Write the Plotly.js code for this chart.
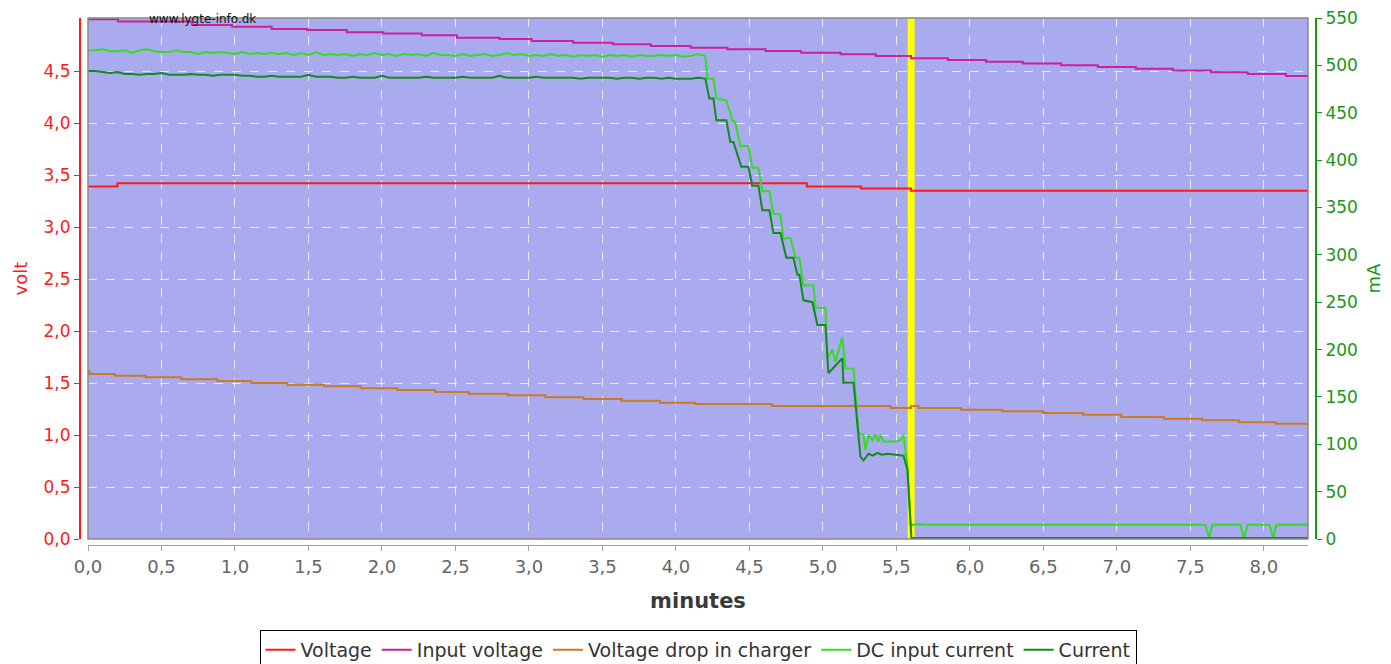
<!DOCTYPE html>
<html>
<head>
<meta charset="utf-8">
<script src="https://cdn.plot.ly/plotly-3.0.1.min.js"></script>
<style>html,body{margin:0;padding:0;background:#fff;}#chart{width:1391px;height:664px;}</style>
</head>
<body>
<div id="chart"></div>
<script>
// ---- Data (minutes / volt / mA) ----
const voltageT = [0, 0.20, 4.89, 5.26, 5.60, 8.30];
const voltageV = [3.39, 3.42, 3.39, 3.37, 3.35, 3.35];

const inputT = [0, 0.204, 0.708, 0.98, 1.25, 1.49, 1.76, 2.01, 2.27, 2.51, 2.80, 3.02, 3.30, 3.57, 3.83, 4.10, 4.35, 4.61, 4.85, 5.12, 5.36, 5.60, 5.85, 6.11, 6.36, 6.62, 6.87, 7.13, 7.38, 7.64, 7.89, 8.15, 8.30];
const inputV = [4.997, 4.976, 4.942, 4.926, 4.904, 4.894, 4.872, 4.862, 4.843, 4.820, 4.808, 4.788, 4.772, 4.757, 4.740, 4.724, 4.709, 4.692, 4.676, 4.661, 4.644, 4.622, 4.606, 4.589, 4.572, 4.555, 4.538, 4.521, 4.505, 4.488, 4.471, 4.452, 4.452];

const dropT = [0, 0.011, 0.182, 0.392, 0.636, 0.880, 1.111, 1.355, 1.605, 1.855, 2.105, 2.361, 2.590, 2.855, 3.111, 3.371, 3.630, 3.892, 4.130, 4.652, 5.46, 5.60, 5.65, 5.94, 6.22, 6.50, 6.77, 7.03, 7.32, 7.58, 7.83, 8.08, 8.30];
const dropV = [1.615, 1.587, 1.571, 1.555, 1.535, 1.519, 1.500, 1.484, 1.468, 1.449, 1.433, 1.413, 1.397, 1.382, 1.363, 1.346, 1.330, 1.311, 1.298, 1.279, 1.260, 1.279, 1.260, 1.243, 1.228, 1.212, 1.195, 1.173, 1.157, 1.141, 1.122, 1.109, 1.109];

const dcInT = [0, 0.05, 0.10, 0.15, 0.20, 0.25, 0.30, 0.35, 0.40, 0.45, 0.50, 0.55, 0.60, 0.65, 0.70, 0.75, 0.80, 0.85, 0.90, 0.95,
  1.00, 1.05, 1.10, 1.15, 1.20, 1.25, 1.30, 1.35, 1.40, 1.45, 1.50, 1.55, 1.60, 1.65, 1.70, 1.75, 1.80, 1.85, 1.90, 1.95,
  2.00, 2.05, 2.10, 2.15, 2.20, 2.25, 2.30, 2.35, 2.40, 2.45, 2.50, 2.55, 2.60, 2.65, 2.70, 2.75, 2.80, 2.85, 2.90, 2.95,
  3.00, 3.05, 3.10, 3.15, 3.20, 3.25, 3.30, 3.35, 3.40, 3.45, 3.50, 3.55, 3.60, 3.65, 3.70, 3.75, 3.80, 3.85, 3.90, 3.95,
  4.00, 4.05, 4.10, 4.15, 4.18, 4.200, 4.214, 4.255, 4.275, 4.343, 4.384, 4.404, 4.438, 4.493, 4.520, 4.561, 4.588, 4.636,
  4.663, 4.711, 4.731, 4.779, 4.813, 4.840, 4.867, 4.935, 4.949, 5.017, 5.031, 5.064, 5.085, 5.132, 5.153, 5.208, 5.242,
  5.276, 5.289, 5.310, 5.337, 5.357, 5.378, 5.391, 5.412, 5.494, 5.527, 5.548, 5.575, 5.596, 5.63, 5.65, 5.66, 5.67, 5.68,
  7.600, 7.627, 7.650, 7.840, 7.865, 7.890, 8.040, 8.062, 8.085, 8.30];
const dcInA = [516, 516, 517, 515, 515, 516, 513, 516, 517, 515, 514, 514, 516, 514, 514, 512, 514, 513, 514, 513,
  512, 514, 512, 513, 512, 513, 512, 513, 511, 513, 511, 514, 511, 512, 511, 512, 510, 512, 511, 513,
  511, 512, 510, 512, 511, 512, 510, 513, 511, 511, 510, 512, 510, 511, 512, 510, 511, 513, 511, 512,
  510, 511, 510, 512, 510, 511, 509, 511, 510, 511, 509, 511, 510, 511, 509, 511, 510, 510, 511, 510,
  511, 509, 510, 512, 511, 510, 486, 486, 465, 463, 442, 440, 415, 415, 392, 392, 367, 367,
  343, 343, 317, 318, 297, 297, 268, 268, 244, 244, 191, 200, 187, 213, 180, 180, 112,
  110, 94, 110, 104, 110, 103, 110, 103, 103, 104, 110, 76, 15, 15, 16, 15, 16, 15,
  15, 2, 15, 15, 1, 15, 15, 1, 15, 15];

const curT = [0, 0.05, 0.10, 0.15, 0.20, 0.25, 0.30, 0.35, 0.40, 0.45, 0.50, 0.55, 0.60, 0.65, 0.70, 0.75, 0.80, 0.85, 0.90, 0.95,
  1.00, 1.05, 1.10, 1.15, 1.20, 1.25, 1.30, 1.35, 1.40, 1.45, 1.50, 1.55, 1.60, 1.65, 1.70, 1.75, 1.80, 1.85, 1.90, 1.95,
  2.00, 2.05, 2.10, 2.15, 2.20, 2.25, 2.30, 2.35, 2.40, 2.45, 2.50, 2.55, 2.60, 2.65, 2.70, 2.75, 2.80, 2.85, 2.90, 2.95,
  3.00, 3.05, 3.10, 3.15, 3.20, 3.25, 3.30, 3.35, 3.40, 3.45, 3.50, 3.55, 3.60, 3.65, 3.70, 3.75, 3.80, 3.85, 3.90, 3.95,
  4.00, 4.05, 4.10, 4.15, 4.200, 4.227, 4.255, 4.275, 4.343, 4.370, 4.391, 4.445, 4.493, 4.520, 4.561, 4.588, 4.636,
  4.663, 4.711, 4.751, 4.799, 4.826, 4.840, 4.867, 4.929, 4.962, 5.017, 5.037, 5.132, 5.139, 5.208, 5.255, 5.276,
  5.310, 5.340, 5.370, 5.400, 5.440, 5.480, 5.548, 5.575, 5.582, 5.602, 8.30];
const curA = [494, 494, 493, 492, 493, 491, 491, 490, 491, 491, 492, 490, 490, 490, 491, 490, 490, 489, 490, 490,
  490, 489, 489, 488, 488, 489, 488, 488, 488, 488, 490, 488, 488, 488, 487, 487, 488, 487, 487, 487,
  489, 487, 487, 487, 487, 487, 488, 487, 487, 487, 487, 488, 487, 487, 487, 487, 489, 487, 487, 487,
  487, 488, 487, 487, 487, 487, 487, 486, 487, 487, 487, 487, 486, 487, 487, 486, 487, 487, 486, 487,
  486, 486, 486, 487, 486, 465, 465, 442, 442, 419, 419, 393, 393, 373, 373, 347, 347,
  323, 323, 297, 297, 279, 279, 252, 250, 226, 226, 175, 191, 165, 165, 87, 83,
  90, 88, 91, 89, 90, 89, 88, 73, 55, 1, 1];

const yellowMarkerT = 5.60;

const red = '#ff1a1a', magenta = '#cc2299', orange = '#cc7a22', lightGreen = '#33dd22', darkGreen = '#138a1e';
const axisGreen = '#1a961a';

const traces = [
  {name: 'Voltage', x: voltageT, y: voltageV, yaxis: 'y', line: {color: red, width: 2, shape: 'hv'}},
  {name: 'Input voltage', x: inputT, y: inputV, yaxis: 'y', line: {color: magenta, width: 2, shape: 'hv'}},
  {name: 'Voltage drop in charger', x: dropT, y: dropV, yaxis: 'y', line: {color: orange, width: 2, shape: 'hv'}},
  {name: 'DC input current', x: dcInT, y: dcInA, yaxis: 'y2', line: {color: lightGreen, width: 2}},
  {name: 'Current', x: curT, y: curA, yaxis: 'y2', line: {color: darkGreen, width: 2}}
].map(t => Object.assign({type: 'scatter', mode: 'lines', hoverinfo: 'skip'}, t));

const W = 1391, H = 664, ml = 80, mr = 75, mt = 18, mb = 119;
const pw = W - ml - mr, ph = H - mt - mb;

const layout = {
  width: W, height: H,
  margin: {l: ml, r: mr, t: mt, b: mb, pad: 0, autoexpand: false},
  paper_bgcolor: '#ffffff',
  plot_bgcolor: '#aaaaee',
  separators: ',.',
  font: {family: 'DejaVu Sans, sans-serif', size: 14, color: '#555'},
  showlegend: true,
  legend: {
    orientation: 'h', x: 0.5, xanchor: 'center', y: -(630 - 545) / ph, yanchor: 'top',
    bordercolor: '#000', borderwidth: 1, bgcolor: '#fff',
    font: {family: 'DejaVu Sans, sans-serif', size: 19, color: '#333'},
    itemwidth: 30, tracegroupgap: 0
  },
  xaxis: {
    domain: [8 / pw, (pw - 8) / pw],
    range: [0, 8.3], dtick: 0.5, tick0: 0, tickformat: '.1f',
    anchor: 'free', position: 0,
    showline: true, linecolor: '#a0a0a0', linewidth: 1,
    ticks: 'outside', ticklen: 5, tickcolor: '#a0a0a0',
    tickfont: {size: 18, color: '#666'},
    showgrid: true, gridcolor: 'rgba(255,255,255,0.75)', griddash: 'dash', gridwidth: 1,
    zeroline: false,
    title: {text: '<b>minutes</b>', font: {size: 21, color: '#3a3a3a'}, standoff: 17}
  },
  yaxis: {
    domain: [6 / ph, 1],
    range: [0, 5.01], dtick: 0.5, tick0: 0, tickformat: '.1f',
    tickvals: [0, 0.5, 1, 1.5, 2, 2.5, 3, 3.5, 4, 4.5],
    anchor: 'free', position: 0,
    showline: true, linecolor: red, linewidth: 2,
    ticks: 'outside', ticklen: 5, tickcolor: red,
    tickfont: {size: 17, color: red},
    showgrid: true, gridcolor: 'rgba(255,255,255,0.75)', griddash: 'dash', gridwidth: 1,
    zeroline: false,
    title: {text: 'volt', font: {size: 18, color: red}, standoff: 10}
  },
  yaxis2: {
    overlaying: 'y', side: 'right',
    range: [0, 550], dtick: 50, tick0: 0,
    anchor: 'free', position: 1,
    showline: true, linecolor: axisGreen, linewidth: 2,
    ticks: 'outside', ticklen: 5, tickcolor: axisGreen,
    tickfont: {size: 17, color: axisGreen},
    showgrid: false, zeroline: false,
    title: {text: 'mA', font: {size: 18, color: axisGreen}, standoff: 10}
  },
  shapes: [
    {type: 'line', xref: 'x', yref: 'y domain', x0: yellowMarkerT, x1: yellowMarkerT, y0: 0, y1: 1,
     line: {color: '#ffff00', width: 7}, layer: 'below'},
    {type: 'rect', xref: 'x domain', yref: 'y domain', x0: 0, x1: 1, y0: 0, y1: 1,
     line: {color: '#8a8a8a', width: 1.5}, fillcolor: 'rgba(0,0,0,0)', layer: 'above'}
  ],
  annotations: [
    {text: 'www.lygte-info.dk', xref: 'x domain', yref: 'y domain', x: 0.048, y: 1, xanchor: 'left', yanchor: 'middle',
     yshift: -1, showarrow: false, font: {family: 'DejaVu Sans, sans-serif', size: 12, color: '#111'}}
  ]
};

Plotly.newPlot('chart', traces, layout, {staticPlot: true, displayModeBar: false});
</script>
</body>
</html>
